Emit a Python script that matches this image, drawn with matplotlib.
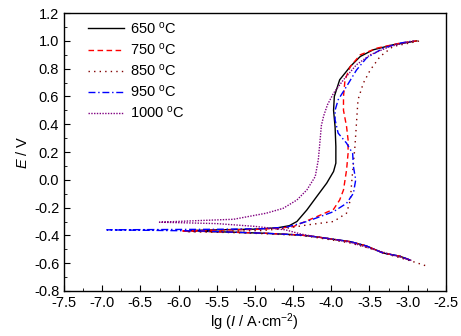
import matplotlib
matplotlib.use("Agg")
import matplotlib.pyplot as plt
from matplotlib.ticker import MultipleLocator, FormatStrFormatter

plt.rcParams['font.family'] = ['Liberation Sans', 'DejaVu Sans']
plt.rcParams['mathtext.fontset'] = 'custom'
plt.rcParams['mathtext.rm'] = 'Liberation Sans'
plt.rcParams['mathtext.it'] = 'Liberation Sans:italic'

labels = ["650 $^{\\mathrm{o}}$C", "750 $^{\\mathrm{o}}$C", "850 $^{\\mathrm{o}}$C",
          "950 $^{\\mathrm{o}}$C", "1000 $^{\\mathrm{o}}$C"]

lg_650 = [-2.97, -3.1, -3.32, -3.54, -3.75, -3.97, -4.2, -4.41, -4.85, -5.28, -5.6, -5.85,
          -5.5, -5.0, -4.7, -4.55, -4.45, -4.32, -4.19, -4.06, -3.97, -3.94, -3.94, -3.95,
          -3.97, -3.96, -3.89, -3.75, -3.62, -3.45, -3.19, -2.88]
E_650 = [-0.577, -0.55, -0.527, -0.476, -0.445, -0.428, -0.41, -0.397, -0.385, -0.377, -0.372, -0.365,
         -0.36, -0.355, -0.345, -0.33, -0.30, -0.217, -0.12, -0.024, 0.06, 0.12, 0.24, 0.38,
         0.50, 0.60, 0.72, 0.816, 0.888, 0.936, 0.972, 1.0]

lg_750 = [-2.97, -3.1, -3.32, -3.54, -3.75, -3.97, -4.2, -4.41, -4.85, -5.28, -5.6, -5.97,
          -5.5, -5.0, -4.7, -4.5, -4.19, -3.97, -3.89, -3.84, -3.80, -3.78, -3.78, -3.80,
          -3.84, -3.84, -3.82, -3.75, -3.62, -3.40, -3.10, -2.88]
E_750 = [-0.577, -0.55, -0.527, -0.476, -0.445, -0.428, -0.41, -0.397, -0.385, -0.377, -0.372, -0.368,
         -0.362, -0.357, -0.349, -0.337, -0.265, -0.212, -0.145, -0.073, 0.07, 0.19, 0.288, 0.384,
         0.50, 0.60, 0.72, 0.816, 0.90, 0.948, 0.984, 1.0]

lg_850 = [-2.77, -2.95, -3.2, -3.45, -3.75, -3.97, -4.2, -4.41, -4.85, -5.28, -5.6, -5.9,
          -5.4, -4.9, -4.6, -4.32, -3.97, -3.80, -3.75, -3.73, -3.69, -3.67, -3.65, -3.58,
          -3.49, -3.36, -3.19, -2.84]
E_850 = [-0.617, -0.585, -0.545, -0.50, -0.455, -0.435, -0.415, -0.40, -0.388, -0.38, -0.376, -0.373,
         -0.37, -0.365, -0.35, -0.325, -0.30, -0.24, -0.145, 0.0, 0.24, 0.408, 0.576, 0.696,
         0.79, 0.888, 0.96, 1.0]

lg_950 = [-2.97, -3.1, -3.32, -3.54, -3.75, -3.97, -4.2, -4.41, -4.85, -5.28, -5.72, -6.3, -6.94,
          -6.3, -5.5, -4.9, -4.58, -4.32, -3.97, -3.80, -3.71, -3.68, -3.71, -3.72, -3.80,
          -3.91, -3.95, -3.95, -3.91, -3.80, -3.67, -3.54, -3.32, -3.10, -2.92]
E_950 = [-0.577, -0.55, -0.527, -0.476, -0.445, -0.428, -0.41, -0.397, -0.385, -0.377, -0.368, -0.364, -0.36,
         -0.358, -0.356, -0.352, -0.34, -0.30, -0.229, -0.169, -0.097, 0.0, 0.096, 0.19, 0.264,
         0.336, 0.432, 0.50, 0.576, 0.672, 0.79, 0.876, 0.948, 0.984, 1.0]

lg_1000 = [-2.95, -3.2, -3.45, -3.75, -3.97, -4.2, -4.4, -4.6, -5.0, -5.5, -6.25,
           -5.72, -5.28, -4.85, -4.63, -4.45, -4.32, -4.21, -4.17, -4.15, -4.13, -4.10, -4.05,
           -3.97, -3.84, -3.67, -3.49, -3.23, -2.92]
E_1000 = [-0.58, -0.54, -0.50, -0.45, -0.428, -0.41, -0.39, -0.36, -0.335, -0.315, -0.305,
          -0.293, -0.284, -0.24, -0.205, -0.145, -0.073, 0.024, 0.144, 0.264, 0.39, 0.46, 0.54,
          0.624, 0.72, 0.828, 0.90, 0.96, 1.0]

fig = plt.figure(figsize=(4.61, 3.36), dpi=100)
ax = fig.add_axes([0.139, 0.134, 0.828, 0.827])

ax.plot(lg_650, E_650, color='black', lw=1.0, ls='-', label=labels[0])
ax.plot(lg_750, E_750, color='#ff0000', lw=1.0, ls=(0, (4, 2.5)), label=labels[1])
ax.plot(lg_850, E_850, color='#800000', lw=1.0, ls=(0, (1, 3)), label=labels[2])
ax.plot(lg_950, E_950, color='#0000ff', lw=1.0, ls=(0, (5, 2, 1, 2)), label=labels[3])
ax.plot(lg_1000, E_1000, color='#800080', lw=1.0, ls=(0, (1, 1)), label=labels[4])

ax.set_xlim(-7.5, -2.5)
ax.set_ylim(-0.8, 1.2)
ax.xaxis.set_major_locator(MultipleLocator(0.5))
ax.xaxis.set_minor_locator(MultipleLocator(0.25))
ax.yaxis.set_major_locator(MultipleLocator(0.2))
ax.yaxis.set_minor_locator(MultipleLocator(0.1))
ax.tick_params(which='both', direction='in', labelsize=10.5, top=False, right=False)
ax.tick_params(which='major', length=4)
ax.tick_params(which='minor', length=2)
ax.xaxis.set_major_formatter(FormatStrFormatter('%.1f'))
ax.yaxis.set_major_formatter(FormatStrFormatter('%.1f'))
for s in ax.spines.values():
    s.set_linewidth(1.0)

ax.set_xlabel("lg ($I$ / A\u00b7cm$^{-2}$)", fontsize=10.5, labelpad=1)
ax.set_ylabel("$E$ / V", fontsize=10.5, labelpad=3)

ax.legend(loc='upper left', frameon=False, fontsize=10.5, handlelength=2.5,
          handletextpad=0.4, labelspacing=0.35, borderaxespad=0.3,
          bbox_to_anchor=(0.035, 1.01))

fig.savefig("out.png", dpi=100)
